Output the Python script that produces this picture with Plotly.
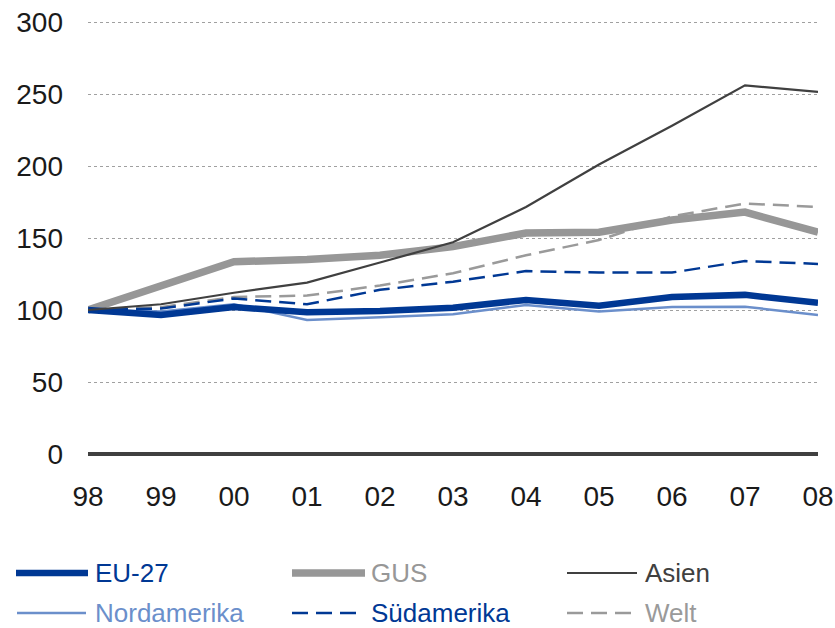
import plotly.graph_objects as go

# Index values (1998 = 100)
years = ["98", "99", "00", "01", "02", "03", "04", "05", "06", "07", "08"]
eu27 = [100, 96.5, 102, 98.5, 99.3, 101.6, 107, 103, 109, 110.5, 105]
gus = [100, 117, 133.5, 135, 138, 144, 153.5, 154, 162.5, 168, 154]
asien = [100, 104, 112, 119, 133, 147, 171.5, 201, 228, 256, 251.5]
nordamerika = [100, 99, 104, 93, 95, 97, 103.5, 99, 102, 102.3, 96.5]
suedamerika = [100, 101, 108, 104, 114, 119.7, 127, 126, 126, 134, 132]
welt = [100, 102, 109, 110, 117, 125.5, 138, 148.6, 165, 174, 171.5]
y_ticks = [0, 50, 100, 150, 200, 250, 300]

BLUE = "#003894"
GREY = "#979797"
DARK = "#404040"
LIGHTBLUE = "#6b8fcb"
WELT = "#9a9a9a"
FONT = "Liberation Sans, Arial, sans-serif"

series = [
    # name, values, color, width, dash
    ("Welt", welt, WELT, 2.5, "16px,8px"),
    ("GUS", gus, GREY, 7.5, "solid"),
    ("Nordamerika", nordamerika, LIGHTBLUE, 2.5, "solid"),
    ("EU-27", eu27, BLUE, 6.5, "solid"),
    ("Südamerika", suedamerika, BLUE, 2.5, "16px,8px"),
    ("Asien", asien, DARK, 2.2, "solid"),
]

fig = go.Figure()
for name, vals, color, width, dash in series:
    fig.add_trace(go.Scatter(
        x=years, y=vals, name=name, mode="lines",
        line=dict(color=color, width=width, dash=dash),
        showlegend=False,
    ))

# Plot-area geometry in pixels (used to place the hand-built legend)
W, H = 835, 628
L, R, T, B = 88, 17, 21, 174
pw, ph = W - L - R, H - T - B


def px_x(x):
    return (x - L) / pw


def px_y(y):
    return (H - B - y) / ph


legend_items = [
    ("EU-27", BLUE, 6.5, "solid", 16, 88, 93, 573),
    ("GUS", GREY, 7.5, "solid", 292, 365, 369, 573),
    ("Asien", DARK, 2.2, "solid", 567, 637, 643, 573),
    ("Nordamerika", LIGHTBLUE, 2.5, "solid", 17, 86, 93, 613),
    ("Südamerika", BLUE, 2.5, "16px,8px", 292, 361, 369, 613),
    ("Welt", WELT, 2.5, "16px,8px", 567, 637, 643, 613),
]
for label, color, width, dash, x0, x1, xt, yy in legend_items:
    fig.add_shape(
        type="line", xref="paper", yref="paper",
        x0=px_x(x0), x1=px_x(x1), y0=px_y(yy), y1=px_y(yy),
        line=dict(color=color, width=width, dash=dash),
    )
    fig.add_annotation(
        xref="paper", yref="paper", x=px_x(xt), y=px_y(yy),
        text=label, showarrow=False, xanchor="left", yanchor="middle",
        font=dict(family=FONT, size=26, color=color),
    )

fig.update_layout(
    width=W, height=H,
    margin=dict(l=L, r=R, t=T, b=B, pad=0, autoexpand=False),
    paper_bgcolor="white", plot_bgcolor="white",
    font=dict(family=FONT, size=28, color="#1a1a1a"),
    showlegend=False,
)
fig.update_xaxes(
    type="category", range=[0, len(years) - 1], automargin=False,
    showgrid=False, showline=False, zeroline=False,
    ticks="", ticklabelstandoff=23,
    tickfont=dict(size=28, color="#1a1a1a"),
)
fig.update_yaxes(
    range=[0, 300.7], tickvals=y_ticks, automargin=False,
    showgrid=True, gridcolor="#a0a0a0", gridwidth=1, griddash="dot",
    zeroline=True, zerolinecolor=DARK, zerolinewidth=4,
    showline=False, ticks="", ticklabelstandoff=24,
    tickfont=dict(size=28, color="#1a1a1a"),
)

fig.write_html("out.html")
